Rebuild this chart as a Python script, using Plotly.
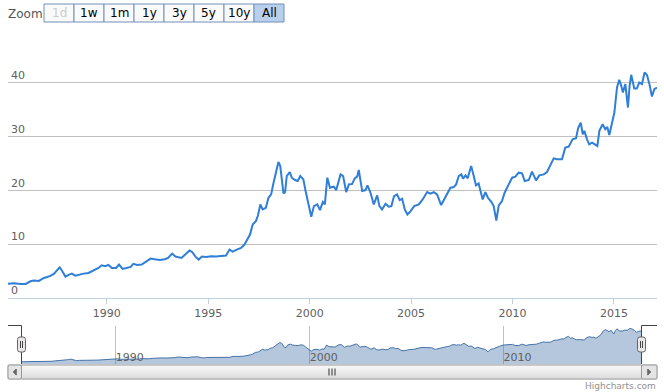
import plotly.graph_objects as go
import pandas as pd

# ---- data ----
years = [1985.13, 1985.42, 1985.75, 1986.0, 1986.24, 1986.41, 1986.65, 1986.9, 1987.06, 1987.22,
         1987.39, 1987.55, 1987.68, 1987.81, 1987.96, 1988.12, 1988.28, 1988.45, 1988.61, 1988.86,
         1989.1, 1989.35, 1989.59, 1989.75, 1989.92, 1990.08, 1990.25, 1990.46, 1990.6, 1990.78,
         1990.98, 1991.18, 1991.31, 1991.5, 1991.72, 1991.96, 1992.16, 1992.37, 1992.61, 1992.86,
         1993.02, 1993.22, 1993.38, 1993.68, 1993.89, 1994.08, 1994.22, 1994.38, 1994.53, 1994.69,
         1994.9, 1995.15, 1995.39, 1995.64, 1995.88, 1996.05, 1996.21, 1996.41, 1996.62, 1996.78,
         1996.94, 1997.06, 1997.19, 1997.35, 1997.45, 1997.57, 1997.68, 1997.84, 1997.97, 1998.1,
         1998.22, 1998.33, 1998.46, 1998.55, 1998.63, 1998.71, 1998.79, 1998.87, 1999.02, 1999.12,
         1999.28, 1999.41, 1999.54, 1999.69, 1999.8, 1999.93, 2000.08, 2000.21, 2000.38, 2000.51,
         2000.65, 2000.75, 2000.87, 2001.0, 2001.19, 2001.31, 2001.52, 2001.65, 2001.8, 2001.93,
         2002.09, 2002.22, 2002.34, 2002.42, 2002.59, 2002.75, 2002.85, 2003.0, 2003.16, 2003.33,
         2003.44, 2003.57, 2003.74, 2003.9, 2004.03, 2004.16, 2004.31, 2004.44, 2004.56, 2004.69,
         2004.82, 2004.98, 2005.15, 2005.38, 2005.57, 2005.79, 2005.95, 2006.12, 2006.28, 2006.48,
         2006.69, 2006.94, 2007.1, 2007.22, 2007.35, 2007.48, 2007.56, 2007.68, 2007.79, 2007.96,
         2008.09, 2008.2, 2008.33, 2008.53, 2008.66, 2008.79, 2008.96, 2009.07, 2009.2, 2009.32,
         2009.48, 2009.61, 2009.81, 2009.98, 2010.14, 2010.3, 2010.47, 2010.6, 2010.8, 2010.96,
         2011.16, 2011.32, 2011.54, 2011.7, 2011.86, 2012.03, 2012.19, 2012.44, 2012.6, 2012.77,
         2012.96, 2013.13, 2013.23, 2013.36, 2013.46, 2013.54, 2013.67, 2013.78, 2013.92, 2014.08,
         2014.18, 2014.28, 2014.44, 2014.57, 2014.67, 2014.77, 2014.9, 2015.02, 2015.15, 2015.26,
         2015.36, 2015.44, 2015.56, 2015.69, 2015.77, 2015.85, 2016.0, 2016.13, 2016.25, 2016.38,
         2016.51, 2016.63, 2016.76, 2016.87, 2016.99, 2017.12]
values = [2.67, 2.73, 2.61, 2.61, 3.1, 3.23, 3.17, 3.73, 3.9, 4.1,
          4.47, 5.16, 5.71, 4.97, 3.98, 4.29, 4.53, 4.16, 4.35, 4.53,
          4.66, 5.16, 5.59, 6.09, 5.9, 6.15, 5.59, 5.59, 6.21, 5.4,
          5.65, 5.78, 6.34, 6.15, 6.21, 6.83, 7.33, 7.2, 7.08, 7.2,
          7.45, 8.26, 7.7, 7.45, 8.2, 8.82, 8.51, 7.64, 7.14, 7.7,
          7.64, 7.76, 7.7, 7.83, 7.89, 9.0, 8.63, 9.0, 9.32, 9.88,
          10.87, 11.8, 13.66, 14.29, 15.34, 17.39, 16.46, 16.77, 18.63, 19.25,
          21.43, 22.98, 25.28, 24.53, 21.43, 19.44, 19.69, 22.67, 23.42, 22.36,
          21.93, 21.74, 22.67, 22.05, 19.88, 17.7, 15.09, 17.08, 17.39, 16.34,
          17.83, 17.39, 22.36, 20.5, 20.68, 20.06, 22.98, 22.67, 19.69, 21.12,
          21.18, 22.24, 22.55, 23.79, 19.88, 20.06, 20.93, 19.57, 17.39, 19.07,
          17.08, 16.46, 17.52, 16.96, 17.08, 18.94, 19.25, 18.2, 18.45, 16.46,
          15.53, 16.15, 17.08, 17.39, 18.32, 19.69, 19.38, 19.69, 19.25, 17.27,
          18.63, 20.5, 20.62, 21.12, 22.67, 22.98, 22.17, 22.8, 22.24, 24.53,
          22.67, 20.93, 21.3, 18.32, 19.69, 18.63, 17.83, 17.08, 14.41, 17.2,
          18.01, 19.57, 21.12, 22.36, 22.55, 23.29, 23.17, 21.74, 21.93, 23.48,
          21.86, 22.8, 22.98, 23.42, 24.66, 25.96, 25.78, 25.78, 27.95, 28.14,
          29.5, 29.69, 31.55, 32.61, 30.43, 31.06, 29.5, 28.57, 28.88, 28.45,
          28.26, 31.06, 32.3, 31.37, 31.8, 30.31, 32.3, 34.47, 39.13, 40.56,
          39.44, 38.2, 39.75, 35.4, 39.44, 41.49, 38.94, 38.94, 40.06, 39.75,
          41.93, 41.43, 39.57, 37.45, 38.82, 39.13]

y_ticks = [0, 10, 20, 30, 40, 50]
y_tick_text = ["0", "10", "20", "30", "40", ""]
buttons = ["1d", "1w", "1m", "1y", "3y", "5y", "10y", "All"]


def to_date(y):
    yi = int(y)
    return pd.Timestamp(year=yi, month=1, day=1) + pd.Timedelta(days=(y - yi) * 365.25)


dates = [to_date(y) for y in years]

W, H = 664, 392
FONT = "DejaVu Sans"


def px(x):
    return x / W


def py(y):
    return 1 - y / H


def path(points, close=False):
    s = "M " + " L ".join(f"{px(x):.5f},{py(y):.5f}" for x, y in points)
    return s + (" Z" if close else "")


def rounded(x0, y0, x1, y1, r):
    p = [f"M {px(x0 + r):.5f},{py(y0):.5f}",
         f"L {px(x1 - r):.5f},{py(y0):.5f}",
         f"Q {px(x1):.5f},{py(y0):.5f} {px(x1):.5f},{py(y0 + r):.5f}",
         f"L {px(x1):.5f},{py(y1 - r):.5f}",
         f"Q {px(x1):.5f},{py(y1):.5f} {px(x1 - r):.5f},{py(y1):.5f}",
         f"L {px(x0 + r):.5f},{py(y1):.5f}",
         f"Q {px(x0):.5f},{py(y1):.5f} {px(x0):.5f},{py(y1 - r):.5f}",
         f"L {px(x0):.5f},{py(y0 + r):.5f}",
         f"Q {px(x0):.5f},{py(y0):.5f} {px(x0 + r):.5f},{py(y0):.5f} Z"]
    return " ".join(p)


fig = go.Figure()
fig.add_trace(go.Scatter(x=dates, y=values, mode="lines",
                         line=dict(color="#2f7ed8", width=2),
                         xaxis="x", yaxis="y", hoverinfo="skip", showlegend=False))
fig.add_trace(go.Scatter(x=dates, y=values, mode="lines",
                         line=dict(color="#4572A7", width=1),
                         fill="tozeroy", fillcolor="rgba(69,114,167,0.40)",
                         xaxis="x2", yaxis="y2", hoverinfo="skip", showlegend=False))

shapes = []
annotations = []

def rect(x0, y0, x1, y1, fill, line="rgba(0,0,0,0)", lw=0, layer="above"):
    shapes.append(dict(type="rect", xref="paper", yref="paper",
                       x0=px(x0), x1=px(x1), y0=py(y1), y1=py(y0),
                       fillcolor=fill, line=dict(color=line, width=lw), layer=layer))

def line(points, color, width=1, close=False, fill=None):
    d = dict(type="path", xref="paper", yref="paper", path=path(points, close),
             line=dict(color=color, width=width), layer="above")
    if fill:
        d["fillcolor"] = fill
    shapes.append(d)

# range selector buttons
bx0, bw = 44, 30
for i, b in enumerate(buttons):
    x0 = bx0 + i * bw
    sel = b == "All"
    rect(x0, 4, x0 + bw, 22, "#b9cfee" if sel else "#fafafa", "#7390b8", 1)
    annotations.append(dict(text=b, x=px(x0 + bw / 2), y=py(13.5), xref="paper", yref="paper",
                            showarrow=False, xanchor="center", yanchor="middle",
                            font=dict(family=FONT, size=12,
                                      color="#cccccc" if b == "1d" else "#000000")))
annotations.append(dict(text="Zoom", x=px(6), y=py(14), xref="paper", yref="paper",
                        showarrow=False, xanchor="left", yanchor="middle",
                        font=dict(family=FONT, size=12, color="#555555")))
annotations.append(dict(text="Highcharts.com", x=px(658), y=py(386), xref="paper", yref="paper",
                        showarrow=False, xanchor="right", yanchor="middle",
                        font=dict(family=FONT, size=9, color="#909090")))

# navigator outline
line([(8, 325.5), (21.5, 325.5), (21.5, 364)], "#444444", 1)
line([(641.5, 364), (641.5, 325.5), (657, 325.5)], "#444444", 1)
# handles
for cx in (21.5, 641.5):
    shapes.append(dict(type="path", xref="paper", yref="paper",
                       path=rounded(cx - 4, 337, cx + 4, 352, 2.5),
                       fillcolor="#ebe7e8", line=dict(color="#666666", width=1), layer="above"))
    line([(cx - 1, 341), (cx - 1, 348)], "#444444", 1)
    line([(cx + 1, 341), (cx + 1, 348)], "#444444", 1)

# scrollbar
rect(8, 365, 657, 379, "#eeeeee", "#bbbbbb", 1)
shade = ["#fbfbfb", "#f8f8f8", "#f5f5f5", "#f2f2f2", "#efefef", "#ececec", "#e9e9e9",
         "#e6e6e6", "#e3e3e3", "#e0e0e0", "#dddddd", "#dadada", "#d8d8d8"]
for k, c in enumerate(shade):
    rect(21.5, 365.5 + k, 641.5, 366.5 + k, c)
rect(21.5, 365, 641.5, 379, "rgba(0,0,0,0)", "#aaaaaa", 1)
for gx in (329, 332, 335):
    line([(gx, 368.5), (gx, 375.5)], "#333333", 1)
for (a, b2, d) in ((8, 21.5, -1), (641.5, 657, 1)):
    shapes.append(dict(type="path", xref="paper", yref="paper", path=rounded(a, 365, b2, 379, 2),
                       fillcolor="#e4e4e4", line=dict(color="#999999", width=1), layer="above"))
    cxm = (a + b2) / 2
    line([(cxm + 1.5 * d, 372), (cxm - 1.5 * d, 369), (cxm - 1.5 * d, 375)], "#666666", 1,
         close=True, fill="#666666")

tickfont = dict(family=FONT, size=11, color="#606060")
fig.update_layout(
    width=W, height=H,
    margin=dict(l=0, r=0, t=0, b=0, pad=0),
    paper_bgcolor="#ffffff", plot_bgcolor="#ffffff",
    showlegend=False,
    xaxis=dict(domain=[px(8), px(657)], anchor="y", type="date",
               range=[dates[0], dates[-1]], tick0="1990-01-01", dtick="M60", tickformat="%Y",
               showgrid=False, zeroline=False, showline=True, linecolor="#C0D0E0", linewidth=1,
               ticks="outside", ticklen=5, tickcolor="#C0D0E0", tickfont=tickfont,
               fixedrange=True),
    yaxis=dict(domain=[py(298), py(29)], anchor="x", range=[0, 50],
               tickvals=y_ticks, ticktext=y_tick_text, ticklabelposition="inside top",
               gridcolor="#C0C0C0", gridwidth=1, zeroline=False, showline=False,
               tickfont=tickfont, fixedrange=True),
    xaxis2=dict(domain=[px(21.5), px(641.5)], anchor="y2", type="date",
                range=[dates[0], dates[-1]], tick0="1990-01-01", dtick="M120", tickformat="%Y",
                showgrid=True, gridcolor="#C0C0C0", gridwidth=1, zeroline=False, showline=False,
                ticks="", ticklabelposition="inside right", ticklabelstandoff=-5,
                tickfont=tickfont, fixedrange=True),
    yaxis2=dict(domain=[py(364), py(325.5)], anchor="x2", range=[0, 45.5], visible=False,
                showgrid=False, fixedrange=True),
    shapes=shapes,
    annotations=annotations,
)

fig.write_html("out.html", config={"displayModeBar": False},
               post_script="document.body.style.margin='0';document.body.style.overflow='hidden';")
